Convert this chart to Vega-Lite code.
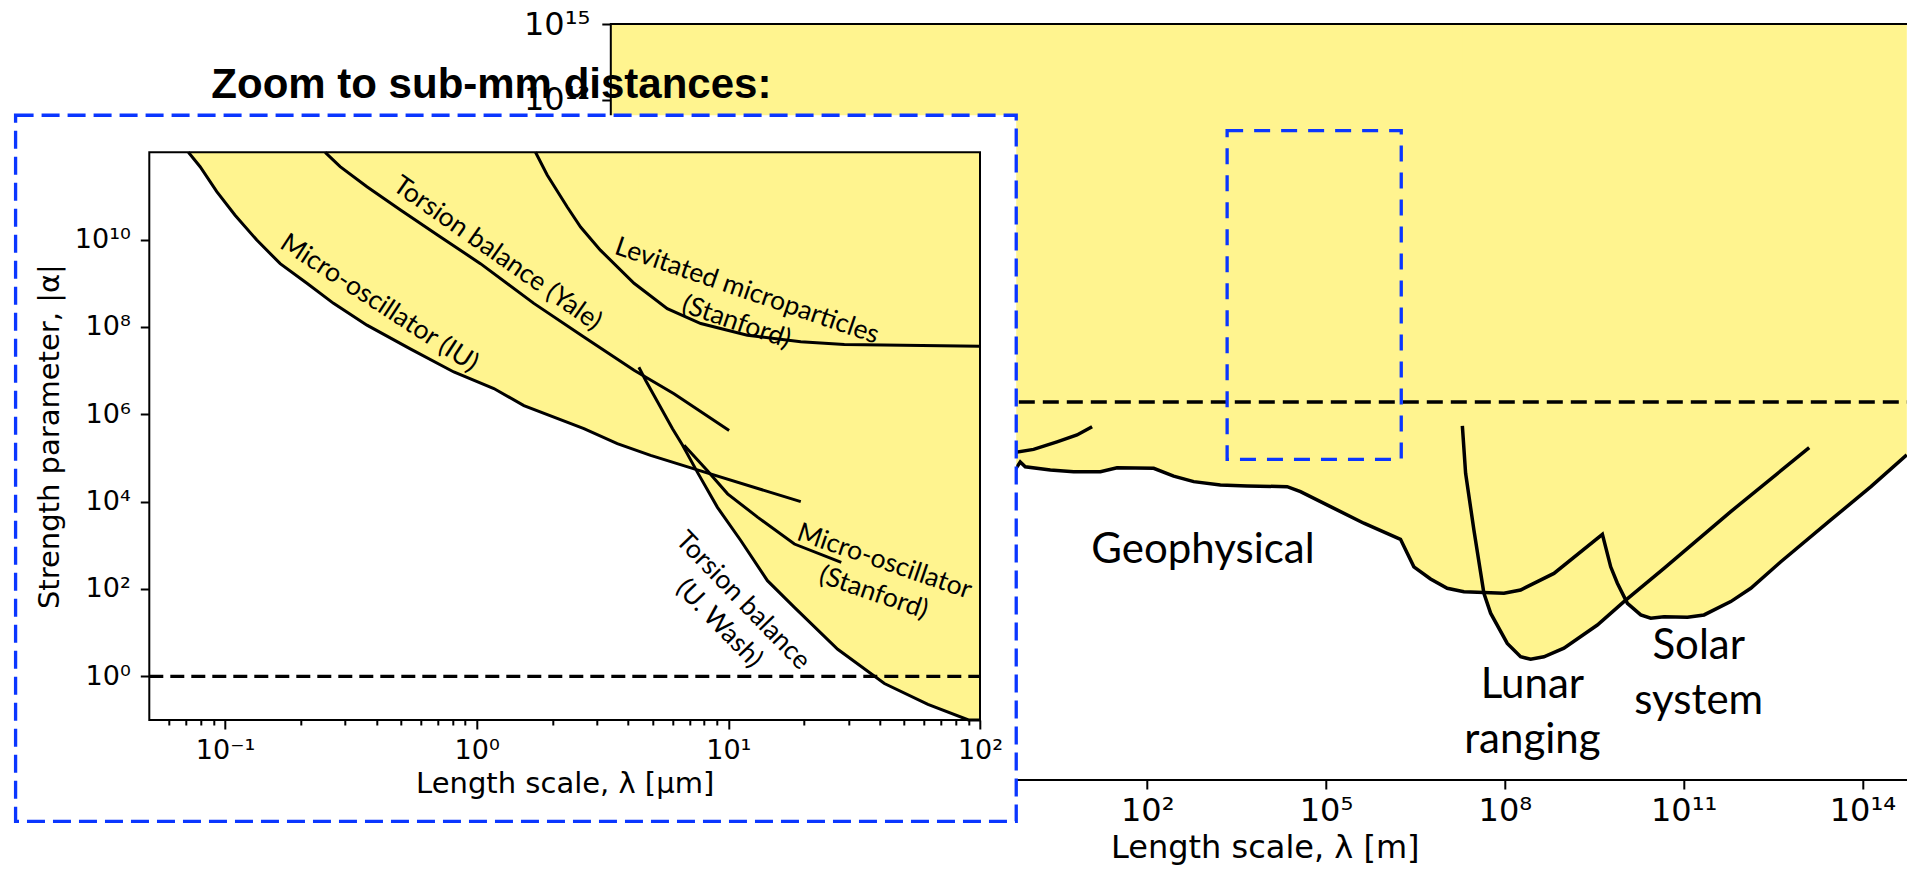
{
  "$schema": "https://vega.github.io/schema/vega-lite/v6.json",
  "width": 1296.2,
  "height": 756,
  "autosize": {"type": "none"},
  "padding": {"left": 610.8, "top": 24, "right": 0, "bottom": 98},
  "background": "white",
  "config": {"view": {"stroke": null}, "axis": {"grid": false}},
  "datasets": {
    "big_curves": [
      {"curve": "geo", "x": 1e-7, "y": 7e10},
      {"curve": "geo", "x": 1e-6, "y": 5.6e6},
      {"curve": "geo", "x": 1e-5, "y": 3e3},
      {"curve": "geo", "x": 1e-4, "y": 0.08},
      {"curve": "geo", "x": 1e-3, "y": 0.02},
      {"curve": "geo", "x": 1e-2, "y": 5e-3},
      {"curve": "geo", "x": 0.1, "y": 3e-3},
      {"curve": "geo", "x": 0.635, "y": 2.4e-3},
      {"curve": "geo", "x": 0.741, "y": 4.17e-3},
      {"curve": "geo", "x": 0.899, "y": 2.69e-3},
      {"curve": "geo", "x": 2.37, "y": 2.0e-3},
      {"curve": "geo", "x": 5.83, "y": 1.7e-3},
      {"curve": "geo", "x": 16.4, "y": 1.7e-3},
      {"curve": "geo", "x": 31.2, "y": 2.45e-3},
      {"curve": "geo", "x": 128.5, "y": 2.34e-3},
      {"curve": "geo", "x": 278, "y": 1.15e-3},
      {"curve": "geo", "x": 603, "y": 6.92e-4},
      {"curve": "geo", "x": 1690, "y": 5.13e-4},
      {"curve": "geo", "x": 4750, "y": 4.68e-4},
      {"curve": "geo", "x": 2.23e4, "y": 4.37e-4},
      {"curve": "geo", "x": 3.73e4, "y": 2.75e-4},
      {"curve": "geo", "x": 1.19e5, "y": 7.08e-5},
      {"curve": "geo", "x": 4.31e5, "y": 1.55e-5},
      {"curve": "geo", "x": 1.78e6, "y": 3.55e-6},
      {"curve": "geo", "x": 2.31e6, "y": 1.0e-6},
      {"curve": "geo", "x": 2.98e6, "y": 2.88e-7},
      {"curve": "geo", "x": 5.68e6, "y": 9.55e-8},
      {"curve": "geo", "x": 1.08e7, "y": 4.07e-8},
      {"curve": "geo", "x": 2.06e7, "y": 2.95e-8},
      {"curve": "geo", "x": 9.66e7, "y": 2.57e-8},
      {"curve": "geo", "x": 1.84e8, "y": 3.47e-8},
      {"curve": "geo", "x": 6.67e8, "y": 1.58e-7},
      {"curve": "geo", "x": 4.34e9, "y": 5.62e-6},
      {"curve": "geo", "x": 5.98e9, "y": 2.88e-7},
      {"curve": "geo", "x": 7.74e9, "y": 6.46e-8},
      {"curve": "geo", "x": 1.14e10, "y": 1.02e-8},
      {"curve": "geo", "x": 1.91e10, "y": 3.55e-9},
      {"curve": "geo", "x": 2.81e10, "y": 2.63e-9},
      {"curve": "geo", "x": 4.69e10, "y": 3.02e-9},
      {"curve": "geo", "x": 1.16e11, "y": 2.88e-9},
      {"curve": "geo", "x": 2.2e11, "y": 3.55e-9},
      {"curve": "geo", "x": 6.18e11, "y": 1.2e-8},
      {"curve": "geo", "x": 1.34e12, "y": 4.07e-8},
      {"curve": "geo", "x": 4.28e12, "y": 4.57e-7},
      {"curve": "geo", "x": 2.95e13, "y": 2.09e-5},
      {"curve": "geo", "x": 1.39e14, "y": 4.37e-4},
      {"curve": "geo", "x": 5.56e14, "y": 7.94e-3},
      {"curve": "lunar", "x": 1.94e7, "y": 0.112},
      {"curve": "lunar", "x": 2.2e7, "y": 1.48e-3},
      {"curve": "lunar", "x": 3.03e7, "y": 8.32e-6},
      {"curve": "lunar", "x": 4.46e7, "y": 2.57e-8},
      {"curve": "lunar", "x": 5.78e7, "y": 4.17e-9},
      {"curve": "lunar", "x": 1.1e8, "y": 2.63e-10},
      {"curve": "lunar", "x": 1.84e8, "y": 7.76e-11},
      {"curve": "lunar", "x": 2.71e8, "y": 6.17e-11},
      {"curve": "lunar", "x": 4.53e8, "y": 7.76e-11},
      {"curve": "lunar", "x": 9.82e8, "y": 1.7e-10},
      {"curve": "lunar", "x": 3.57e9, "y": 1.41e-9},
      {"curve": "lunar", "x": 9.98e9, "y": 1.2e-8},
      {"curve": "lunar", "x": 4.69e10, "y": 2.51e-7},
      {"curve": "lunar", "x": 6.18e11, "y": 4.47e-5},
      {"curve": "lunar", "x": 1.28e13, "y": 1.55e-2},
      {"curve": "short", "x": 0.416, "y": 9.1e-3},
      {"curve": "short", "x": 0.573, "y": 9.77e-3},
      {"curve": "short", "x": 1.24, "y": 1.32e-2},
      {"curve": "short", "x": 3.07, "y": 2.63e-2},
      {"curve": "short", "x": 6.64, "y": 4.9e-2},
      {"curve": "short", "x": 11.9, "y": 0.105}
    ],
    "big_boxes": [
      {"box": "frame", "x": 1e-7, "x2": 1e16, "y": 1e-15, "y2": 1e15},
      {"box": "zoom", "x": 2193, "x2": 1.83e6, "y": 5.32e-3, "y2": 5.83e10},
      {"box": "unity", "x": 1e-7, "x2": 1e16, "y": 1, "y2": 1}
    ],
    "big_labels": [
      {"label": "Geophysical", "x": 861, "y": 3.98e-7},
      {"label": "Lunar\nranging", "x": 2.9e8, "y": 1.74e-12},
      {"label": "Solar\nsystem", "x": 1.79e11, "y": 6.2e-11}
    ],
    "inset_curves": [
      {"curve": "iu", "x": 0.0715, "y": 1e12},
      {"curve": "iu", "x": 0.0796, "y": 4.68e11},
      {"curve": "iu", "x": 0.0927, "y": 1.26e11},
      {"curve": "iu", "x": 0.1096, "y": 3.63e10},
      {"curve": "iu", "x": 0.1337, "y": 9.77e9},
      {"curve": "iu", "x": 0.1656, "y": 2.82e9},
      {"curve": "iu", "x": 0.2115, "y": 1.0e9},
      {"curve": "iu", "x": 0.2698, "y": 3.47e8},
      {"curve": "iu", "x": 0.3664, "y": 1.1e8},
      {"curve": "iu", "x": 0.5445, "y": 3.16e7},
      {"curve": "iu", "x": 0.811, "y": 9.33e6},
      {"curve": "iu", "x": 1.17, "y": 3.89e6},
      {"curve": "iu", "x": 1.54, "y": 1.58e6},
      {"curve": "iu", "x": 2.667, "y": 4.68e5},
      {"curve": "iu", "x": 3.62, "y": 2.14e5},
      {"curve": "iu", "x": 4.91, "y": 1.15e5},
      {"curve": "iu", "x": 7.31, "y": 5.62e4},
      {"curve": "iu", "x": 19.4, "y": 1.0e4},
      {"curve": "yale", "x": 0.25, "y": 1e12},
      {"curve": "yale", "x": 0.2866, "y": 4.68e11},
      {"curve": "yale", "x": 0.3664, "y": 1.62e11},
      {"curve": "yale", "x": 0.498, "y": 4.79e10},
      {"curve": "yale", "x": 0.718, "y": 1.15e10},
      {"curve": "yale", "x": 1.035, "y": 2.82e9},
      {"curve": "yale", "x": 1.687, "y": 3.47e8},
      {"curve": "yale", "x": 2.667, "y": 5.89e7},
      {"curve": "yale", "x": 4.22, "y": 1.02e7},
      {"curve": "yale", "x": 6.08, "y": 2.95e6},
      {"curve": "yale", "x": 10.07, "y": 4.27e5},
      {"curve": "lev", "x": 1.713, "y": 1e12},
      {"curve": "lev", "x": 1.906, "y": 3.02e11},
      {"curve": "lev", "x": 2.29, "y": 5.6e10},
      {"curve": "lev", "x": 2.587, "y": 1.95e10},
      {"curve": "lev", "x": 3.1, "y": 5.75e9},
      {"curve": "lev", "x": 4.22, "y": 1.0e9},
      {"curve": "lev", "x": 5.72, "y": 2.63e8},
      {"curve": "lev", "x": 7.77, "y": 1.2e8},
      {"curve": "lev", "x": 11.9, "y": 6.46e7},
      {"curve": "lev", "x": 19.4, "y": 4.57e7},
      {"curve": "lev", "x": 28.9, "y": 3.98e7},
      {"curve": "lev", "x": 100, "y": 3.63e7},
      {"curve": "uwash", "x": 4.41, "y": 1.2e7},
      {"curve": "uwash", "x": 4.7, "y": 5.89e6},
      {"curve": "uwash", "x": 6.0, "y": 4.68e5},
      {"curve": "uwash", "x": 6.58, "y": 1.95e5},
      {"curve": "uwash", "x": 7.54, "y": 4.68e4},
      {"curve": "uwash", "x": 9.05, "y": 7.41e3},
      {"curve": "uwash", "x": 11.2, "y": 1.29e3},
      {"curve": "uwash", "x": 14.3, "y": 155},
      {"curve": "uwash", "x": 18.3, "y": 38},
      {"curve": "uwash", "x": 27.2, "y": 4.17},
      {"curve": "uwash", "x": 41.7, "y": 0.684},
      {"curve": "uwash", "x": 62.1, "y": 0.229},
      {"curve": "uwash", "x": 90, "y": 0.1},
      {"curve": "uwash", "x": 100, "y": 0.1},
      {"curve": "mos", "x": 6.67, "y": 1.95e5},
      {"curve": "mos", "x": 8.26, "y": 5.13e4},
      {"curve": "mos", "x": 9.93, "y": 1.51e4},
      {"curve": "mos", "x": 13.1, "y": 4.37e3},
      {"curve": "mos", "x": 18.3, "y": 1.07e3},
      {"curve": "mos", "x": 28.1, "y": 407}
    ],
    "inset_boxes": [
      {"box": "border", "x": 0.01471, "x2": 139.3, "y": 4.78e-4, "y2": 7.06e12},
      {"box": "frame", "x": 0.05, "x2": 100, "y": 0.1, "y2": 1e12},
      {"box": "unity", "x": 0.05, "x2": 100, "y": 1, "y2": 1}
    ],
    "inset_labels": [
      {"label": "Micro-oscillator (IU)", "x": 0.41, "y": 3.5e8, "group": "a33"},
      {"label": "Torsion balance (Yale)", "x": 1.206, "y": 4.8e9, "group": "a35"},
      {"label": "Levitated microparticles\n(Stanford)", "x": 11.86, "y": 6.65e8, "group": "a19"},
      {"label": "Micro-oscillator\n(Stanford)", "x": 41.7, "y": 423, "group": "a19"},
      {"label": "Torsion balance\n(U. Wash)", "x": 11.42, "y": 54, "group": "a46"},
      {"label": "Zoom to sub-mm distances:", "x": 0.0882, "y": 1.714e13, "group": "title"}
    ]
  },
  "layer": [
    {
      "encoding": {
        "x": {
          "field": "x", "type": "quantitative",
          "scale": {"type": "log", "domain": [1e-7, 5.6e14], "nice": false},
          "axis": {
            "orient": "bottom", "title": "Length scale, λ [m]",
            "values": [1e-7, 1e-4, 0.1, 100, 1e5, 1e8, 1e11, 1e14],
            "labelExpr": "'10' + replace(replace(replace(replace(replace(replace(replace(replace(replace(replace(replace(toString(round(log(datum.value)/LN10)), regexp('-','g'), '⁻'), regexp('0','g'), '⁰'), regexp('1','g'), '¹'), regexp('2','g'), '²'), regexp('3','g'), '³'), regexp('4','g'), '⁴'), regexp('5','g'), '⁵'), regexp('6','g'), '⁶'), regexp('7','g'), '⁷'), regexp('8','g'), '⁸'), regexp('9','g'), '⁹')",
            "domain": false, "tickSize": 9, "tickWidth": 2, "tickColor": "black",
            "labelFont": "DejaVu Sans", "labelFontSize": 32, "labelColor": "black",
            "labelPadding": 6, "labelFlush": false, "labelOverlap": false,
            "titleFont": "DejaVu Sans", "titleFontSize": 32, "titleFontWeight": "normal",
            "titleColor": "black", "titlePadding": 6, "titleX": 654, "zindex": 0
          }
        },
        "y": {
          "field": "y", "type": "quantitative",
          "scale": {"type": "log", "domain": [1e-15, 1e15], "nice": false},
          "axis": {
            "orient": "left", "title": null,
            "values": [1e15, 1e12, 1e9, 1e6, 1e3, 1, 1e-3, 1e-6, 1e-9, 1e-12, 1e-15],
            "labelExpr": "'10' + replace(replace(replace(replace(replace(replace(replace(replace(replace(replace(replace(toString(round(log(datum.value)/LN10)), regexp('-','g'), '⁻'), regexp('0','g'), '⁰'), regexp('1','g'), '¹'), regexp('2','g'), '²'), regexp('3','g'), '³'), regexp('4','g'), '⁴'), regexp('5','g'), '⁵'), regexp('6','g'), '⁶'), regexp('7','g'), '⁷'), regexp('8','g'), '⁸'), regexp('9','g'), '⁹')",
            "domain": false, "tickSize": 9, "tickWidth": 2, "tickColor": "black",
            "labelFont": "DejaVu Sans", "labelFontSize": 32, "labelColor": "black",
            "labelPadding": 12, "labelFlush": false, "labelOverlap": false, "zindex": 0
          }
        }
      },
      "layer": [
        {
          "data": {"name": "big_curves"},
          "transform": [{"filter": "datum.curve === 'geo'"}],
          "mark": {"type": "area", "color": "#fff48f", "opacity": 1},
          "encoding": {"y2": {"datum": 1e15}}
        },
        {
          "data": {"name": "big_curves"},
          "transform": [{"filter": "datum.curve === 'lunar'"}],
          "mark": {"type": "area", "color": "#fff48f", "opacity": 1},
          "encoding": {"y2": {"datum": 1e15}}
        },
        {
          "data": {"name": "big_boxes"},
          "transform": [{"filter": "datum.box === 'frame'"}],
          "mark": {"type": "rect", "filled": false, "stroke": "black", "strokeWidth": 2},
          "encoding": {"x2": {"field": "x2"}, "y2": {"field": "y2"}}
        },
        {
          "data": {"name": "big_boxes"},
          "transform": [{"filter": "datum.box === 'unity'"}],
          "mark": {"type": "rule", "color": "black", "strokeWidth": 3.3, "strokeDash": [16, 8]},
          "encoding": {"x2": {"field": "x2"}}
        },
        {
          "data": {"name": "big_curves"},
          "mark": {"type": "line", "color": "black", "strokeWidth": 3.5},
          "encoding": {"detail": {"field": "curve"}}
        },
        {
          "data": {"name": "big_boxes"},
          "transform": [{"filter": "datum.box === 'zoom'"}],
          "mark": {"type": "rect", "filled": false, "stroke": "#0a36ff", "strokeWidth": 3.3, "strokeDash": [16, 11]},
          "encoding": {"x2": {"field": "x2"}, "y2": {"field": "y2"}}
        },
        {
          "data": {"name": "big_labels"},
          "mark": {"type": "text", "font": "Lato", "fontSize": 42, "color": "black", "align": "center", "baseline": "alphabetic", "lineBreak": "\n", "lineHeight": 55},
          "encoding": {"text": {"field": "label"}}
        }
      ]
    },
    {
      "encoding": {
        "x": {
          "field": "x", "type": "quantitative",
          "scale": {"type": "log", "domain": [0.05, 100], "range": [-461.5, 369.2], "nice": false},
          "axis": {
            "orient": "bottom", "offset": -60, "title": "Length scale, λ [μm]",
            "values": [0.06, 0.07, 0.08, 0.09, 0.1, 0.2, 0.3, 0.4, 0.5, 0.6, 0.7, 0.8, 0.9, 1, 2, 3, 4, 5, 6, 7, 8, 9, 10, 20, 30, 40, 50, 60, 70, 80, 90, 100],
            "labelExpr": "abs(log(datum.value)/LN10 - round(log(datum.value)/LN10)) < 1e-6 ? '10' + replace(replace(replace(replace(replace(replace(replace(replace(replace(replace(replace(toString(round(log(datum.value)/LN10)), regexp('-','g'), '⁻'), regexp('0','g'), '⁰'), regexp('1','g'), '¹'), regexp('2','g'), '²'), regexp('3','g'), '³'), regexp('4','g'), '⁴'), regexp('5','g'), '⁵'), regexp('6','g'), '⁶'), regexp('7','g'), '⁷'), regexp('8','g'), '⁸'), regexp('9','g'), '⁹') : ''",
            "domain": false,
            "tickSize": {"condition": {"test": "abs(log(datum.value)/LN10 - round(log(datum.value)/LN10)) < 1e-6", "value": 9}, "value": 5},
            "tickWidth": 2, "tickColor": "black",
            "labelFont": "DejaVu Sans", "labelFontSize": 27, "labelColor": "black",
            "labelPadding": 8, "labelFlush": false, "labelOverlap": false,
            "titleFont": "DejaVu Sans", "titleFontSize": 29, "titleFontWeight": "normal",
            "titleColor": "black", "titlePadding": 6, "zindex": 1
          }
        },
        "y": {
          "field": "y", "type": "quantitative",
          "scale": {"type": "log", "domain": [0.1, 1e12], "range": [696, 128.3], "nice": false},
          "axis": {
            "orient": "left", "offset": 461.5, "title": "Strength parameter, |α|",
            "values": [1, 100, 1e4, 1e6, 1e8, 1e10],
            "labelExpr": "'10' + replace(replace(replace(replace(replace(replace(replace(replace(replace(replace(replace(toString(round(log(datum.value)/LN10)), regexp('-','g'), '⁻'), regexp('0','g'), '⁰'), regexp('1','g'), '¹'), regexp('2','g'), '²'), regexp('3','g'), '³'), regexp('4','g'), '⁴'), regexp('5','g'), '⁵'), regexp('6','g'), '⁶'), regexp('7','g'), '⁷'), regexp('8','g'), '⁸'), regexp('9','g'), '⁹')",
            "domain": false, "tickSize": 9, "tickWidth": 2, "tickColor": "black",
            "labelFont": "DejaVu Sans", "labelFontSize": 27, "labelColor": "black",
            "labelPadding": 10, "labelFlush": false, "labelOverlap": false,
            "titleFont": "DejaVu Sans", "titleFontSize": 29, "titleFontWeight": "normal",
            "titleColor": "black", "titlePadding": 10, "zindex": 1
          }
        }
      },
      "layer": [
        {
          "data": {"name": "inset_boxes"},
          "transform": [{"filter": "datum.box === 'border'"}],
          "mark": {"type": "rect", "fill": "white", "stroke": "#0a36ff", "strokeWidth": 3.3, "strokeDash": [18, 8]},
          "encoding": {"x2": {"field": "x2"}, "y2": {"field": "y2"}}
        },
        {
          "data": {"name": "inset_curves"},
          "transform": [{"filter": "datum.curve === 'iu'"}],
          "mark": {"type": "area", "color": "#fff48f", "opacity": 1},
          "encoding": {"y2": {"datum": 1e12}}
        },
        {
          "data": {"name": "inset_curves"},
          "transform": [{"filter": "datum.curve === 'uwash'"}],
          "mark": {"type": "area", "color": "#fff48f", "opacity": 1},
          "encoding": {"y2": {"datum": 1e12}}
        },
        {
          "data": {"name": "inset_boxes"},
          "transform": [{"filter": "datum.box === 'frame'"}],
          "mark": {"type": "rect", "filled": false, "stroke": "black", "strokeWidth": 2},
          "encoding": {"x2": {"field": "x2"}, "y2": {"field": "y2"}}
        },
        {
          "data": {"name": "inset_boxes"},
          "transform": [{"filter": "datum.box === 'unity'"}],
          "mark": {"type": "rule", "color": "black", "strokeWidth": 3.3, "strokeDash": [14, 7]},
          "encoding": {"x2": {"field": "x2"}}
        },
        {
          "data": {"name": "inset_curves"},
          "mark": {"type": "line", "color": "black", "strokeWidth": 3},
          "encoding": {"detail": {"field": "curve"}}
        },
        {
          "data": {"name": "inset_labels"},
          "transform": [{"filter": "datum.group === 'a33'"}],
          "mark": {"type": "text", "font": "Lato", "fontSize": 26.5, "color": "black", "angle": 33, "align": "center", "baseline": "middle", "lineBreak": "\n", "lineHeight": 33},
          "encoding": {"text": {"field": "label"}}
        },
        {
          "data": {"name": "inset_labels"},
          "transform": [{"filter": "datum.group === 'a35'"}],
          "mark": {"type": "text", "font": "Lato", "fontSize": 26.5, "color": "black", "angle": 35, "align": "center", "baseline": "middle", "lineBreak": "\n", "lineHeight": 33},
          "encoding": {"text": {"field": "label"}}
        },
        {
          "data": {"name": "inset_labels"},
          "transform": [{"filter": "datum.group === 'a19'"}],
          "mark": {"type": "text", "font": "Lato", "fontSize": 26.5, "color": "black", "angle": 19, "align": "center", "baseline": "middle", "lineBreak": "\n", "lineHeight": 33},
          "encoding": {"text": {"field": "label"}}
        },
        {
          "data": {"name": "inset_labels"},
          "transform": [{"filter": "datum.group === 'a46'"}],
          "mark": {"type": "text", "font": "Lato", "fontSize": 26.5, "color": "black", "angle": 46, "align": "center", "baseline": "middle", "lineBreak": "\n", "lineHeight": 33},
          "encoding": {"text": {"field": "label"}}
        },
        {
          "data": {"name": "inset_labels"},
          "transform": [{"filter": "datum.group === 'title'"}],
          "mark": {"type": "text", "font": "Liberation Sans", "fontWeight": "bold", "fontSize": 42, "color": "black", "align": "left", "baseline": "alphabetic"},
          "encoding": {"text": {"field": "label"}}
        }
      ]
    }
  ],
  "resolve": {
    "scale": {"x": "independent", "y": "independent"},
    "axis": {"x": "independent", "y": "independent"}
  }
}
